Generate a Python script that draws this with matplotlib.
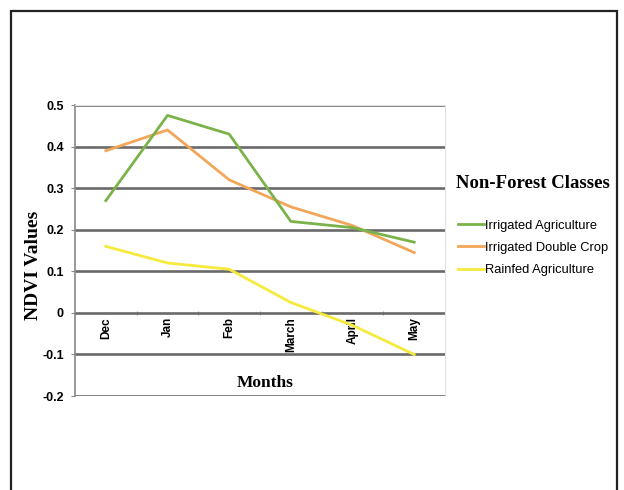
import matplotlib
matplotlib.use("Agg")
import matplotlib.pyplot as plt
import numpy as np
from matplotlib.patches import Rectangle

# ── Data ─────────────────────────────────────────────────────────────────────
months = ["Dec", "Jan", "Feb", "March", "April", "May"]
irrigated_agri = [0.27, 0.475, 0.43, 0.22, 0.205, 0.17]
irrigated_double = [0.39, 0.44, 0.32, 0.255, 0.21, 0.145]
rainfed_agri = [0.16, 0.12, 0.105, 0.025, -0.03, -0.10]
y_ticks = [-0.2, -0.1, 0, 0.1, 0.2, 0.3, 0.4, 0.5]
y_labels = ["-0.2", "-0.1", "0", "0.1", "0.2", "0.3", "0.4", "0.5"]

fig = plt.figure(figsize=(6.24, 4.90), dpi=100)
fig.patches.append(Rectangle((11 / 624, -0.05), 606 / 624, 1.05 - 11 / 490,
                             transform=fig.transFigure, fill=False,
                             edgecolor="#222222", linewidth=1.6))

ax = fig.add_axes([0.1202, 0.1918, 0.593, 0.5939])
x = np.arange(len(months))

ax.plot(x, irrigated_agri, color="#7bb24a", lw=2, label="Irrigated Agriculture", zorder=4)
ax.plot(x, irrigated_double, color="#f2a65a", lw=2, label="Irrigated Double Crop", zorder=3)
ax.plot(x, rainfed_agri, color="#f6ea3c", lw=2, label="Rainfed Agriculture", zorder=3)

ax.set_xlim(-0.5, len(months) - 0.5)
ax.set_ylim(-0.2, 0.5)
ax.set_yticks(y_ticks)
ax.set_yticklabels(y_labels, fontsize=9, fontweight="bold", family="Liberation Sans")
ax.yaxis.grid(True, color="#6a6a6a", lw=1.9)
ax.set_axisbelow(True)

ax.spines["bottom"].set_position(("data", 0))
ax.spines["bottom"].set_visible(False)
ax.spines["top"].set_color("#e2e2e2")
ax.spines["right"].set_color("#e2e2e2")
ax.spines["left"].set_color("#888888")
ax.spines["left"].set_linewidth(1.2)
ax.tick_params(axis="y", length=3, color="#888888", pad=5)

ax.set_xticks(x)
ax.set_xticklabels(months, rotation=90, fontsize=8.5, fontweight="bold",
                   family="Liberation Sans", va="top")
ax.set_xticks(np.arange(len(months) + 1) - 0.5, minor=True)
ax.tick_params(axis="x", which="major", length=0, pad=3)
ax.tick_params(axis="x", which="minor", length=3, direction="inout", color="#888888")

ax.set_ylabel("NDVI Values", fontsize=14, fontweight="bold", family="Liberation Serif")
ax.yaxis.set_label_coords(-0.09, 0.45)
ax.text(0.515, 0.045, "Months", transform=ax.transAxes, ha="center", va="center",
        fontsize=12.5, fontweight="bold", family="Liberation Serif")

leg = fig.legend(loc="upper left", bbox_to_anchor=(0.712, 0.667), frameon=False,
                 prop={"family": "Liberation Sans", "size": 9.3},
                 handlelength=2.0, handletextpad=0.05, labelspacing=0.8,
                 title="Non-Forest Classes")
leg.get_title().set_fontfamily("Liberation Serif")
leg.get_title().set_fontweight("bold")
leg.get_title().set_fontsize(13.5)
leg._legend_box.sep = 20

fig.savefig("out.png", dpi=100)
